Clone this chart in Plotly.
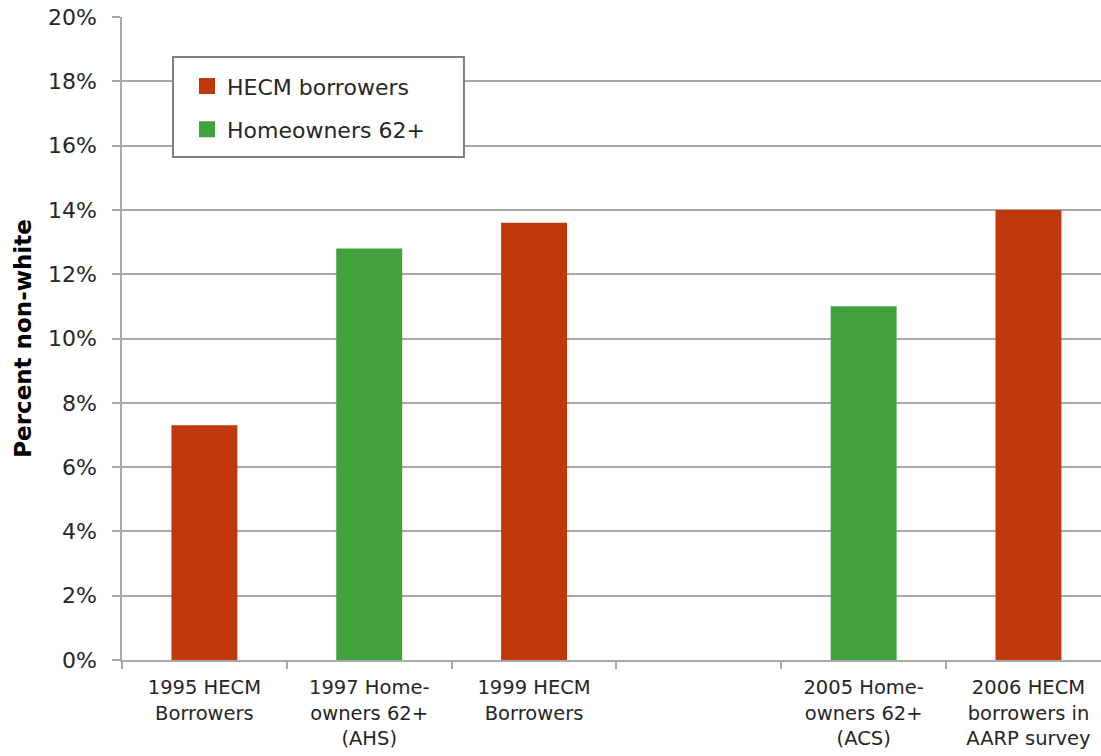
import plotly.graph_objects as go

categories = [
    "1995 HECM<br>Borrowers",
    "1997 Home-<br>owners 62+<br>(AHS)",
    "1999 HECM<br>Borrowers",
    " ",
    "2005 Home-<br>owners 62+<br>(ACS)",
    "2006 HECM<br>borrowers in<br>AARP survey",
]
hecm_borrowers = [7.3, None, 13.6, None, None, 14.0]
homeowners_62 = [None, 12.8, None, None, 11.0, None]
series_names = ["HECM borrowers", "Homeowners 62+"]
y_ticks = [0, 2, 4, 6, 8, 10, 12, 14, 16, 18, 20]
y_tick_labels = [f"{v}%" for v in y_ticks]

RED = "#C0380B"
GREEN = "#41A23D"
GRID = "#A8A8A8"
TEXT = "#262626"
FONT = "Verdana, DejaVu Sans, sans-serif"

fig = go.Figure()
for vals, name, col, grp in [(hecm_borrowers, series_names[0], RED, "a"),
                             (homeowners_62, series_names[1], GREEN, "b")]:
    fig.add_trace(go.Bar(x=categories, y=vals, name=name,
                         marker=dict(color=col, line=dict(width=0)), width=0.4,
                         showlegend=False, legendgroup=grp))
    # legend entry with a larger square swatch
    fig.add_trace(go.Scatter(x=[None], y=[None], mode="markers", name=name,
                             marker=dict(symbol="square", size=23, color=col,
                                         line=dict(width=0)),
                             legendgroup=grp, showlegend=True,
                             hoverinfo="skip"))

# legend frame
fig.add_shape(type="rect", xref="paper", yref="paper",
              x0=0.0521, x1=0.3493, y0=0.7823, y1=0.9378,
              fillcolor="white", line=dict(color="#808080", width=2),
              layer="above")

fig.update_layout(
    width=1101, height=756,
    margin=dict(l=122, r=0, t=17, b=96, autoexpand=False),
    paper_bgcolor="white", plot_bgcolor="white",
    barmode="overlay",
    font=dict(family=FONT, color=TEXT),
    legend=dict(
        x=0.0664, y=0.925, xanchor="left", yanchor="top",
        bgcolor="rgba(0,0,0,0)", borderwidth=0,
        font=dict(size=22, family=FONT, color=TEXT),
        traceorder="grouped", tracegroupgap=11.5,
        itemsizing="trace",
    ),
    xaxis=dict(
        type="category", categoryorder="array", categoryarray=categories,
        range=[-0.5, 5.44],
        automargin=False,
        showline=True, linecolor=GRID, linewidth=1.5,
        ticks="outside", tickson="boundaries", ticklen=7,
        tickcolor=GRID, tickwidth=1.5,
        ticklabelstandoff=9,
        ticklabeloverflow="allow",
        tickfont=dict(size=19.5, family=FONT, color=TEXT),
        showgrid=False,
    ),
    yaxis=dict(
        range=[0, 20], tickvals=y_ticks, ticktext=y_tick_labels,
        automargin=False,
        showline=True, linecolor=GRID, linewidth=1.5,
        ticks="outside", ticklen=8, tickcolor=GRID, tickwidth=1.5,
        showgrid=True, gridcolor=GRID, gridwidth=1.5,
        zeroline=False,
        ticklabelstandoff=11,
        ticklabeloverflow="allow",
        tickfont=dict(size=22, family=FONT, color=TEXT),
        title=dict(text="<b>Percent non-white</b>", standoff=10,
                   font=dict(size=23, family=FONT, color="black")),
    ),
)

# remove the browser's default page margin so the figure fills the window
fig.write_html("out.html",
               config={"displayModeBar": False},
               post_script="document.body.style.margin='0';"
                           "document.body.style.overflow='hidden';")
